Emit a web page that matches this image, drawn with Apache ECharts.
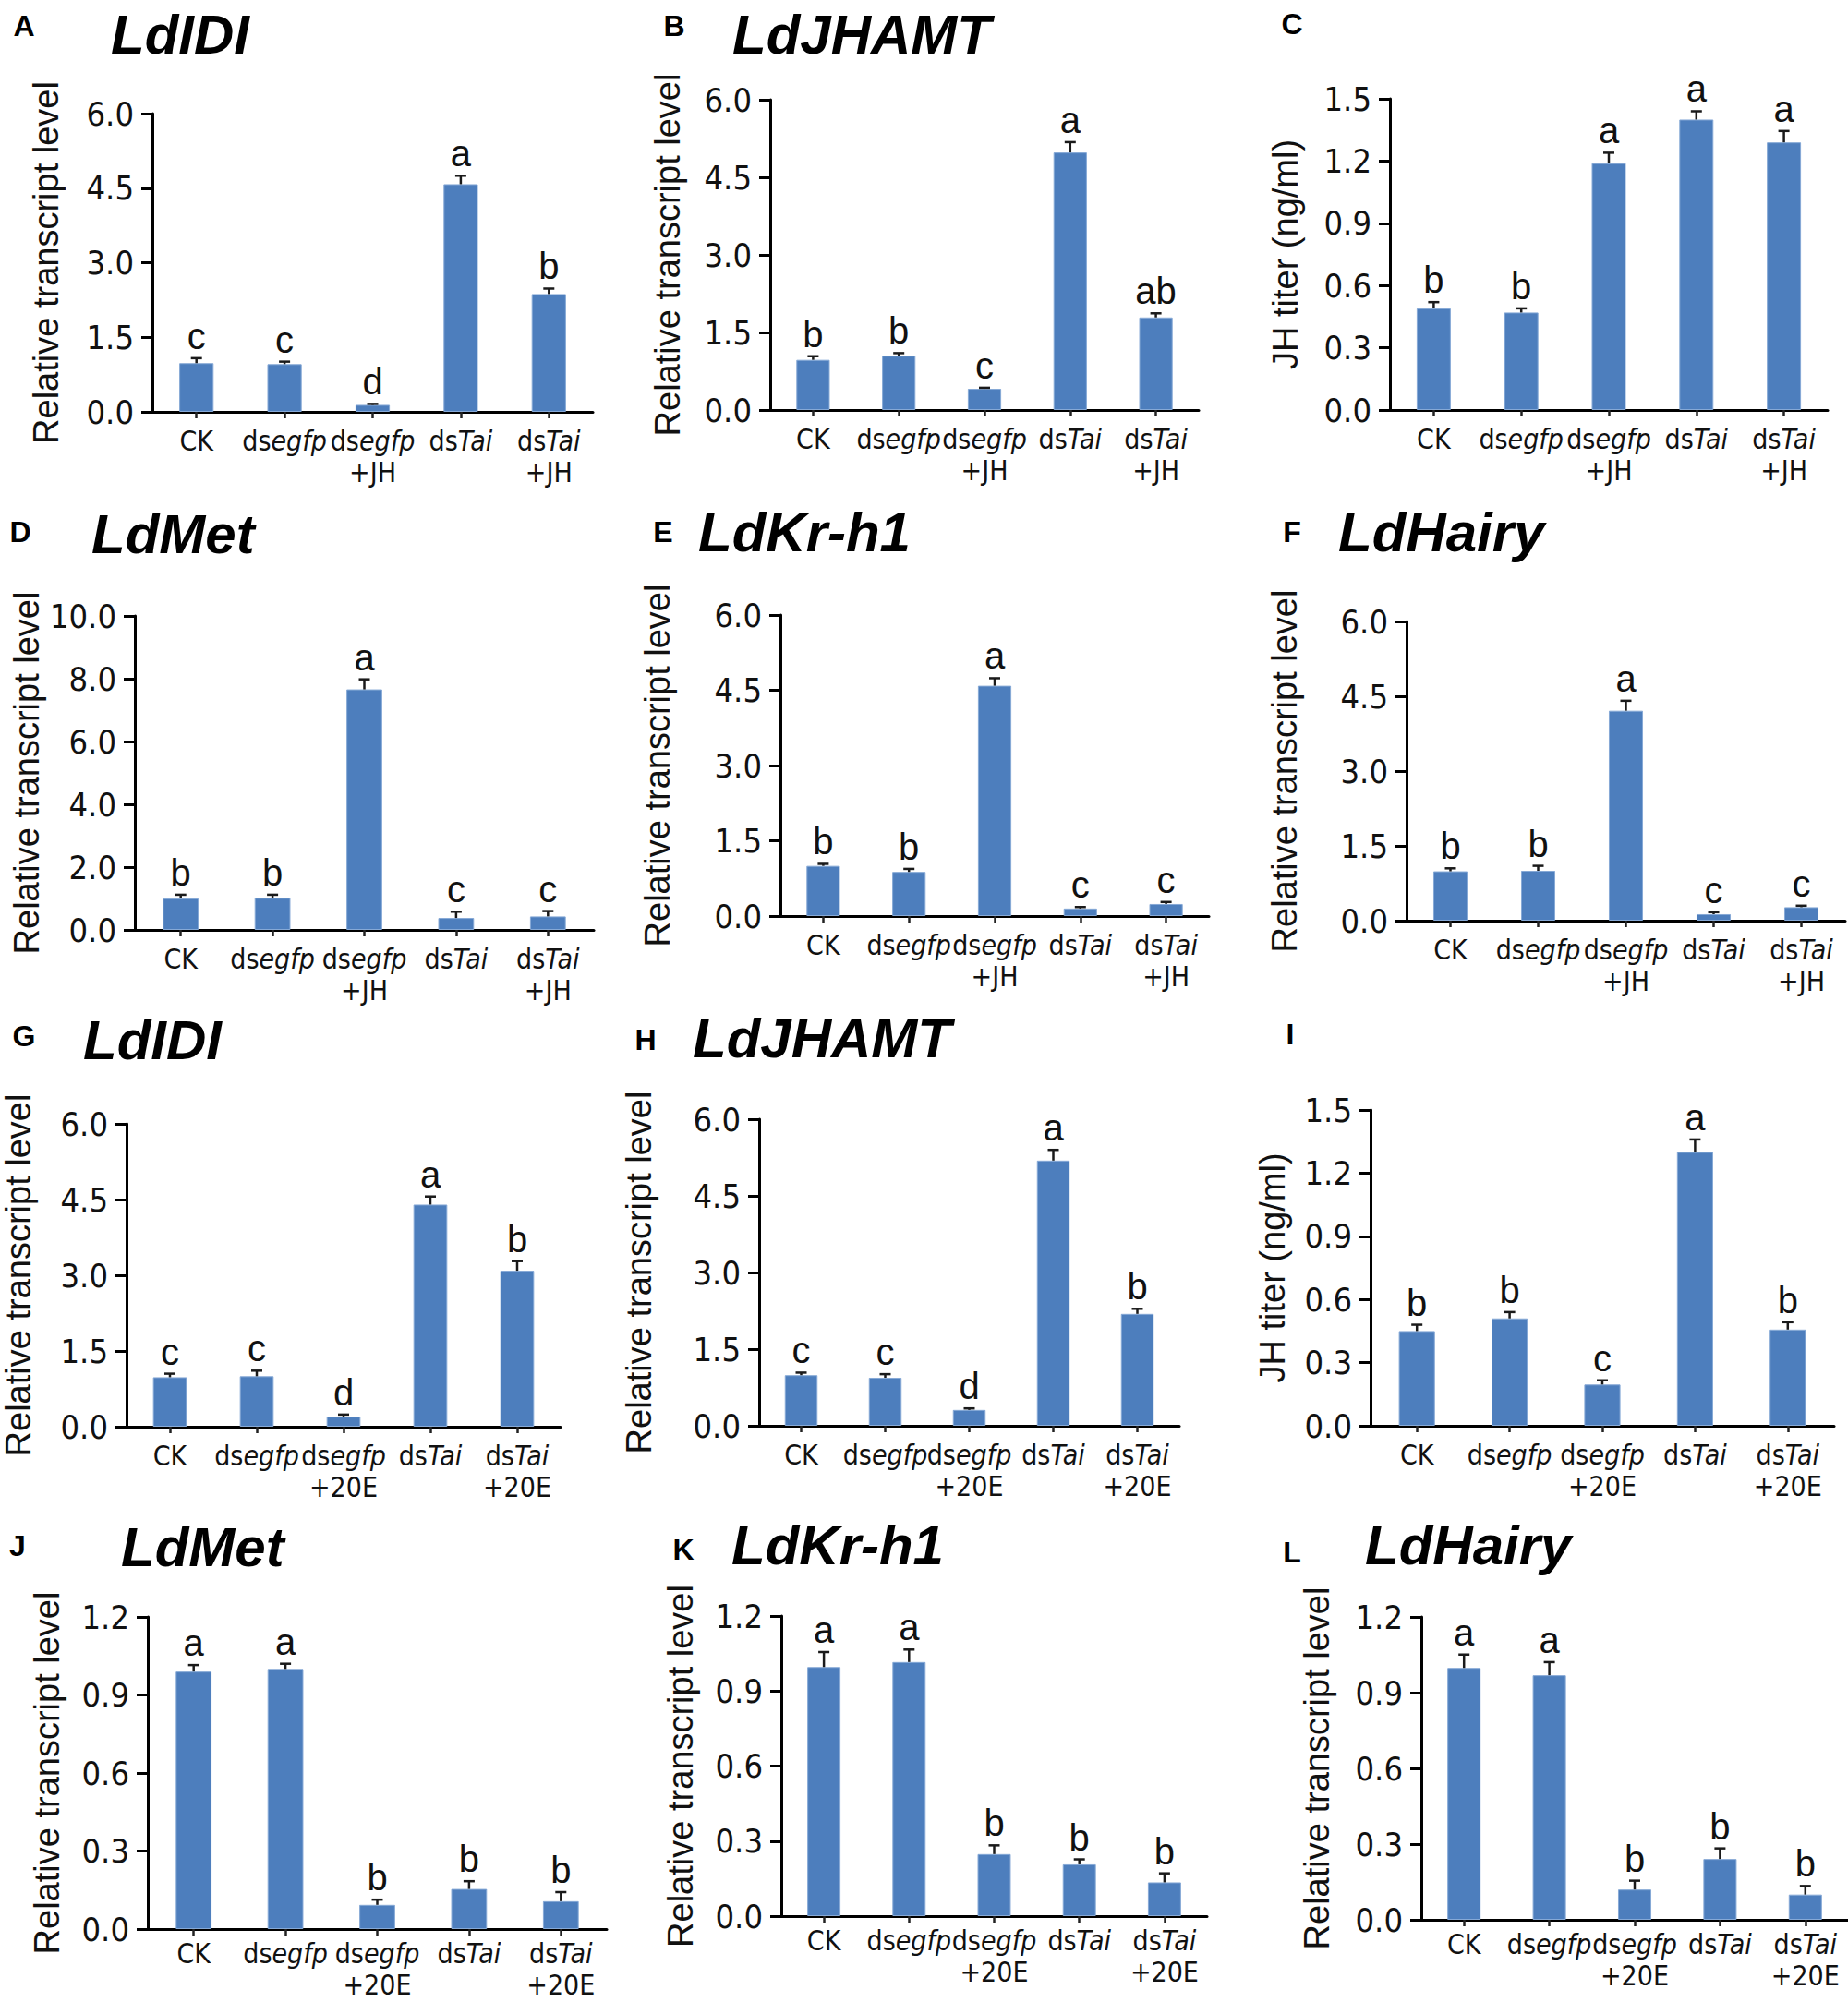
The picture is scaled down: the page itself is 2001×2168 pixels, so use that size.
<!DOCTYPE html>
<html>
<head>
<meta charset="utf-8">
<title>Tai knockdown – JH pathway</title>
<script src="https://cdn.jsdelivr.net/npm/echarts/dist/echarts.min.js"></script>
<style>
  html, body { margin: 0; padding: 0; background: #fff; }
  #chart { width: 2001px; height: 2168px; }
</style>
</head>
<body>
<div id="chart"></div>
<script>
// categories
var catsJH = ['CK', 'dsegfp', 'dsegfp+JH', 'dsTai', 'dsTai+JH'];
var cats20E = ['CK', 'dsegfp', 'dsegfp+20E', 'dsTai', 'dsTai+20E'];

// panel letters and gene names
var panelLetters = ['A', 'B', 'C', 'D', 'E', 'F', 'G', 'H', 'I', 'J', 'K', 'L'];
var geneNames = ['LdIDI', 'LdJHAMT', '', 'LdMet', 'LdKr-h1', 'LdHairy',
                 'LdIDI', 'LdJHAMT', '', 'LdMet', 'LdKr-h1', 'LdHairy'];
var yNames = ['Relative transcript level', 'Relative transcript level', 'JH titer (ng/ml)',
              'Relative transcript level', 'Relative transcript level', 'Relative transcript level',
              'Relative transcript level', 'Relative transcript level', 'JH titer (ng/ml)',
              'Relative transcript level', 'Relative transcript level', 'Relative transcript level'];

// y axis ranges (max / tick step)
var yMax = [6, 6, 1.5, 10, 6, 6, 6, 6, 1.5, 1.2, 1.2, 1.2];
var yStep = [1.5, 1.5, 0.3, 2, 1.5, 1.5, 1.5, 1.5, 0.3, 0.3, 0.3, 0.3];

// values, SE and significance letters
var idiJH = [0.98, 0.96, 0.14, 4.58, 2.37];
var idiJHErr = [0.10, 0.05, 0.02, 0.17, 0.11];
var idiJHSig = ['c', 'c', 'd', 'a', 'b'];

var jhamtJH = [0.97, 1.05, 0.41, 4.98, 1.79];
var jhamtJHErr = [0.07, 0.05, 0.02, 0.20, 0.08];
var jhamtJHSig = ['b', 'b', 'c', 'a', 'ab'];

var titerJH = [0.49, 0.47, 1.19, 1.40, 1.29];
var titerJHErr = [0.03, 0.02, 0.05, 0.04, 0.055];
var titerJHSig = ['b', 'b', 'a', 'a', 'a'];

var metJH = [1.0, 1.02, 7.66, 0.38, 0.43];
var metJHErr = [0.12, 0.10, 0.32, 0.20, 0.17];
var metJHSig = ['b', 'b', 'a', 'c', 'c'];

var krJH = [1.0, 0.88, 4.59, 0.15, 0.24];
var krJHErr = [0.04, 0.06, 0.15, 0.03, 0.04];
var krJHSig = ['b', 'b', 'a', 'c', 'c'];

var hairyJH = [0.99, 1.0, 4.21, 0.13, 0.27];
var hairyJHErr = [0.06, 0.10, 0.20, 0.04, 0.03];
var hairyJHSig = ['b', 'b', 'a', 'c', 'c'];

var idi20E = [0.98, 1.0, 0.20, 4.40, 3.09];
var idi20EErr = [0.07, 0.11, 0.04, 0.16, 0.19];
var idi20ESig = ['c', 'c', 'd', 'a', 'b'];

var jhamt20E = [0.99, 0.94, 0.31, 5.19, 2.19];
var jhamt20EErr = [0.05, 0.07, 0.03, 0.21, 0.10];
var jhamt20ESig = ['c', 'c', 'd', 'a', 'b'];

var titer20E = [0.45, 0.51, 0.196, 1.30, 0.457];
var titer20EErr = [0.03, 0.03, 0.02, 0.06, 0.035];
var titer20ESig = ['b', 'b', 'c', 'a', 'b'];

var met20E = [0.99, 1.0, 0.093, 0.154, 0.107];
var met20EErr = [0.025, 0.02, 0.02, 0.03, 0.035];
var met20ESig = ['a', 'a', 'b', 'b', 'b'];

var kr20E = [0.996, 1.016, 0.248, 0.207, 0.135];
var kr20EErr = [0.06, 0.05, 0.035, 0.02, 0.036];
var kr20ESig = ['a', 'a', 'b', 'b', 'b'];

var hairy20E = [0.998, 0.969, 0.12, 0.241, 0.10];
var hairy20EErr = [0.053, 0.052, 0.035, 0.042, 0.034];
var hairy20ESig = ['a', 'a', 'b', 'b', 'b'];

var panelCats = [catsJH, catsJH, catsJH, catsJH, catsJH, catsJH, cats20E, cats20E, cats20E, cats20E, cats20E, cats20E];
var panelValues = [idiJH, jhamtJH, titerJH, metJH, krJH, hairyJH, idi20E, jhamt20E, titer20E, met20E, kr20E, hairy20E];
var panelErrors = [idiJHErr, jhamtJHErr, titerJHErr, metJHErr, krJHErr, hairyJHErr,
                   idi20EErr, jhamt20EErr, titer20EErr, met20EErr, kr20EErr, hairy20EErr];
var panelSigs = [idiJHSig, jhamtJHSig, titerJHSig, metJHSig, krJHSig, hairyJHSig,
                 idi20ESig, jhamt20ESig, titer20ESig, met20ESig, kr20ESig, hairy20ESig];

// layout: grid box [left, top, width, height], y name gap
var gridBoxes = [
  [165, 123, 477, 323], [834, 108, 464, 336], [1505, 107, 474, 337],
  [146, 667, 497, 340], [845, 666, 464, 326], [1523, 673, 475, 324],
  [136, 1217, 471, 328], [822, 1212, 455, 332], [1484, 1202, 502, 342],
  [160, 1751, 497, 338], [846, 1750, 461, 325], [1539, 1751, 467, 328]
];
var nameGaps = [96, 92, 94, 98, 114, 113, 98, 111, 87, 90, 90, 94];
// panel letter centre [x, y], gene name [left x, middle y]
var letterPos = [[26, 28], [730, 28], [1399, 26], [22, 576], [718, 576], [1399, 576],
                 [26, 1122], [699, 1126], [1397, 1120], [19, 1674], [740, 1678], [1399, 1681]];
var titlePos = [[120, 37], [793, 37], null, [99, 578], [756, 576], [1449, 576],
                [90, 1126], [750, 1124], null, [131, 1675], [792, 1673], [1478, 1673]];

var NARROW = '"Liberation Sans Narrow", "Arial Narrow", "DejaVu Sans Condensed", sans-serif';
var SANS = '"Liberation Sans", Arial, Helvetica, sans-serif';
var BAR_COLOR = '#4d7ebd';

//x label as rich text: "ds" upright, gene part italic, treatment on a 2nd line
function catLabel(cat) {
  var parts = cat.split('+');
  var first = parts[0];
  var out = first.indexOf('ds') === 0 ? '{n|ds}{i|' + first.slice(2) + '}' : '{n|' + first + '}';
  if (parts.length > 1) {
    out += '\n{n|+' + parts[1] + '}';
  }
  return out;
}

function errRender(sigs) {
  return function (params, api) {
    var idx = api.value(0);
    var v = api.value(1);
    var e = api.value(2);
    var base = api.coord([idx, v]);
    var top = api.coord([idx, v + e]);
    var cap = 6;
    var lineStyle = { stroke: '#1a1a1a', lineWidth: 2.5 };
    return {
      type: 'group',
      children: [
        { type: 'line', shape: { x1: base[0], y1: base[1], x2: top[0], y2: top[1] }, style: lineStyle },
        { type: 'line', shape: { x1: top[0] - cap, y1: top[1], x2: top[0] + cap, y2: top[1] }, style: lineStyle },
        {
          type: 'text', x: top[0], y: top[1] - 4,
          style: {
            text: sigs[params.dataIndex], fill: '#111',
            font: '40px ' + SANS, align: 'center', verticalAlign: 'bottom'
          }
        }
      ]
    };
  };
}

var myChart = echarts.init(document.getElementById('chart'), null, { renderer: 'svg' });

var grids = [], xAxes = [], yAxes = [], series = [], graphics = [];

panelValues.forEach(function (vals, p) {
  var box = gridBoxes[p];
  grids.push({ left: box[0], top: box[1], width: box[2], height: box[3], containLabel: false });

  xAxes.push({
    type: 'category',
    gridIndex: p,
    data: panelCats[p],
    axisLine: { show: true, lineStyle: { color: '#000', width: 3 } },
    axisTick: { show: true, alignWithLabel: true, length: 7, lineStyle: { color: '#222', width: 2.5 } },
    axisLabel: {
      interval: 0,
      margin: p >= 9 ? 9 : 14,
      formatter: catLabel,
      rich: {
        n: { fontFamily: NARROW, fontSize: 30, color: '#111', lineHeight: 34 },
        i: { fontFamily: NARROW, fontSize: 30, fontStyle: 'italic', color: '#111', lineHeight: 34 }
      }
    },
    splitLine: { show: false }
  });

  yAxes.push({
    type: 'value',
    gridIndex: p,
    min: 0,
    max: yMax[p],
    interval: yStep[p],
    name: yNames[p],
    nameLocation: 'middle',
    nameGap: nameGaps[p],
    nameRotate: 90,
    nameTextStyle: { fontFamily: SANS, fontSize: 38, color: '#111' },
    axisLine: { show: true, lineStyle: { color: '#000', width: 3 } },
    axisTick: { show: true, length: 12, lineStyle: { color: '#000', width: 3 } },
    axisLabel: {
      margin: 20,
      fontFamily: NARROW,
      fontSize: 36,
      color: '#111',
      formatter: function (v) { return v.toFixed(1); }
    },
    splitLine: { show: false }
  });

  series.push({
    type: 'bar',
    xAxisIndex: p,
    yAxisIndex: p,
    barWidth: '39%',
    itemStyle: { color: BAR_COLOR, borderColor: '#86a9d6', borderWidth: 1 },
    data: vals
  });

  series.push({
    type: 'custom',
    xAxisIndex: p,
    yAxisIndex: p,
    z: 5,
    renderItem: errRender(panelSigs[p]),
    data: vals.map(function (v, i) { return [i, v, panelErrors[p][i]]; })
  });

  graphics.push({
    type: 'text',
    x: letterPos[p][0],
    y: letterPos[p][1],
    style: {
      text: panelLetters[p], fill: '#000',
      font: 'bold 32px ' + SANS,
      textAlign: 'center', textVerticalAlign: 'middle', align: 'center', verticalAlign: 'middle'
    }
  });
  if (titlePos[p]) {
    graphics.push({
      type: 'text',
      x: titlePos[p][0],
      y: titlePos[p][1],
      style: {
        text: geneNames[p], fill: '#000',
        font: 'italic bold 60px ' + SANS,
        textAlign: 'left', textVerticalAlign: 'middle', align: 'left', verticalAlign: 'middle'
      }
    });
  }
});

var option = {
  animation: false,
  backgroundColor: '#fff',
  grid: grids,
  xAxis: xAxes,
  yAxis: yAxes,
  series: series,
  graphic: graphics
};
myChart.setOption(option);
</script>
</body>
</html>
